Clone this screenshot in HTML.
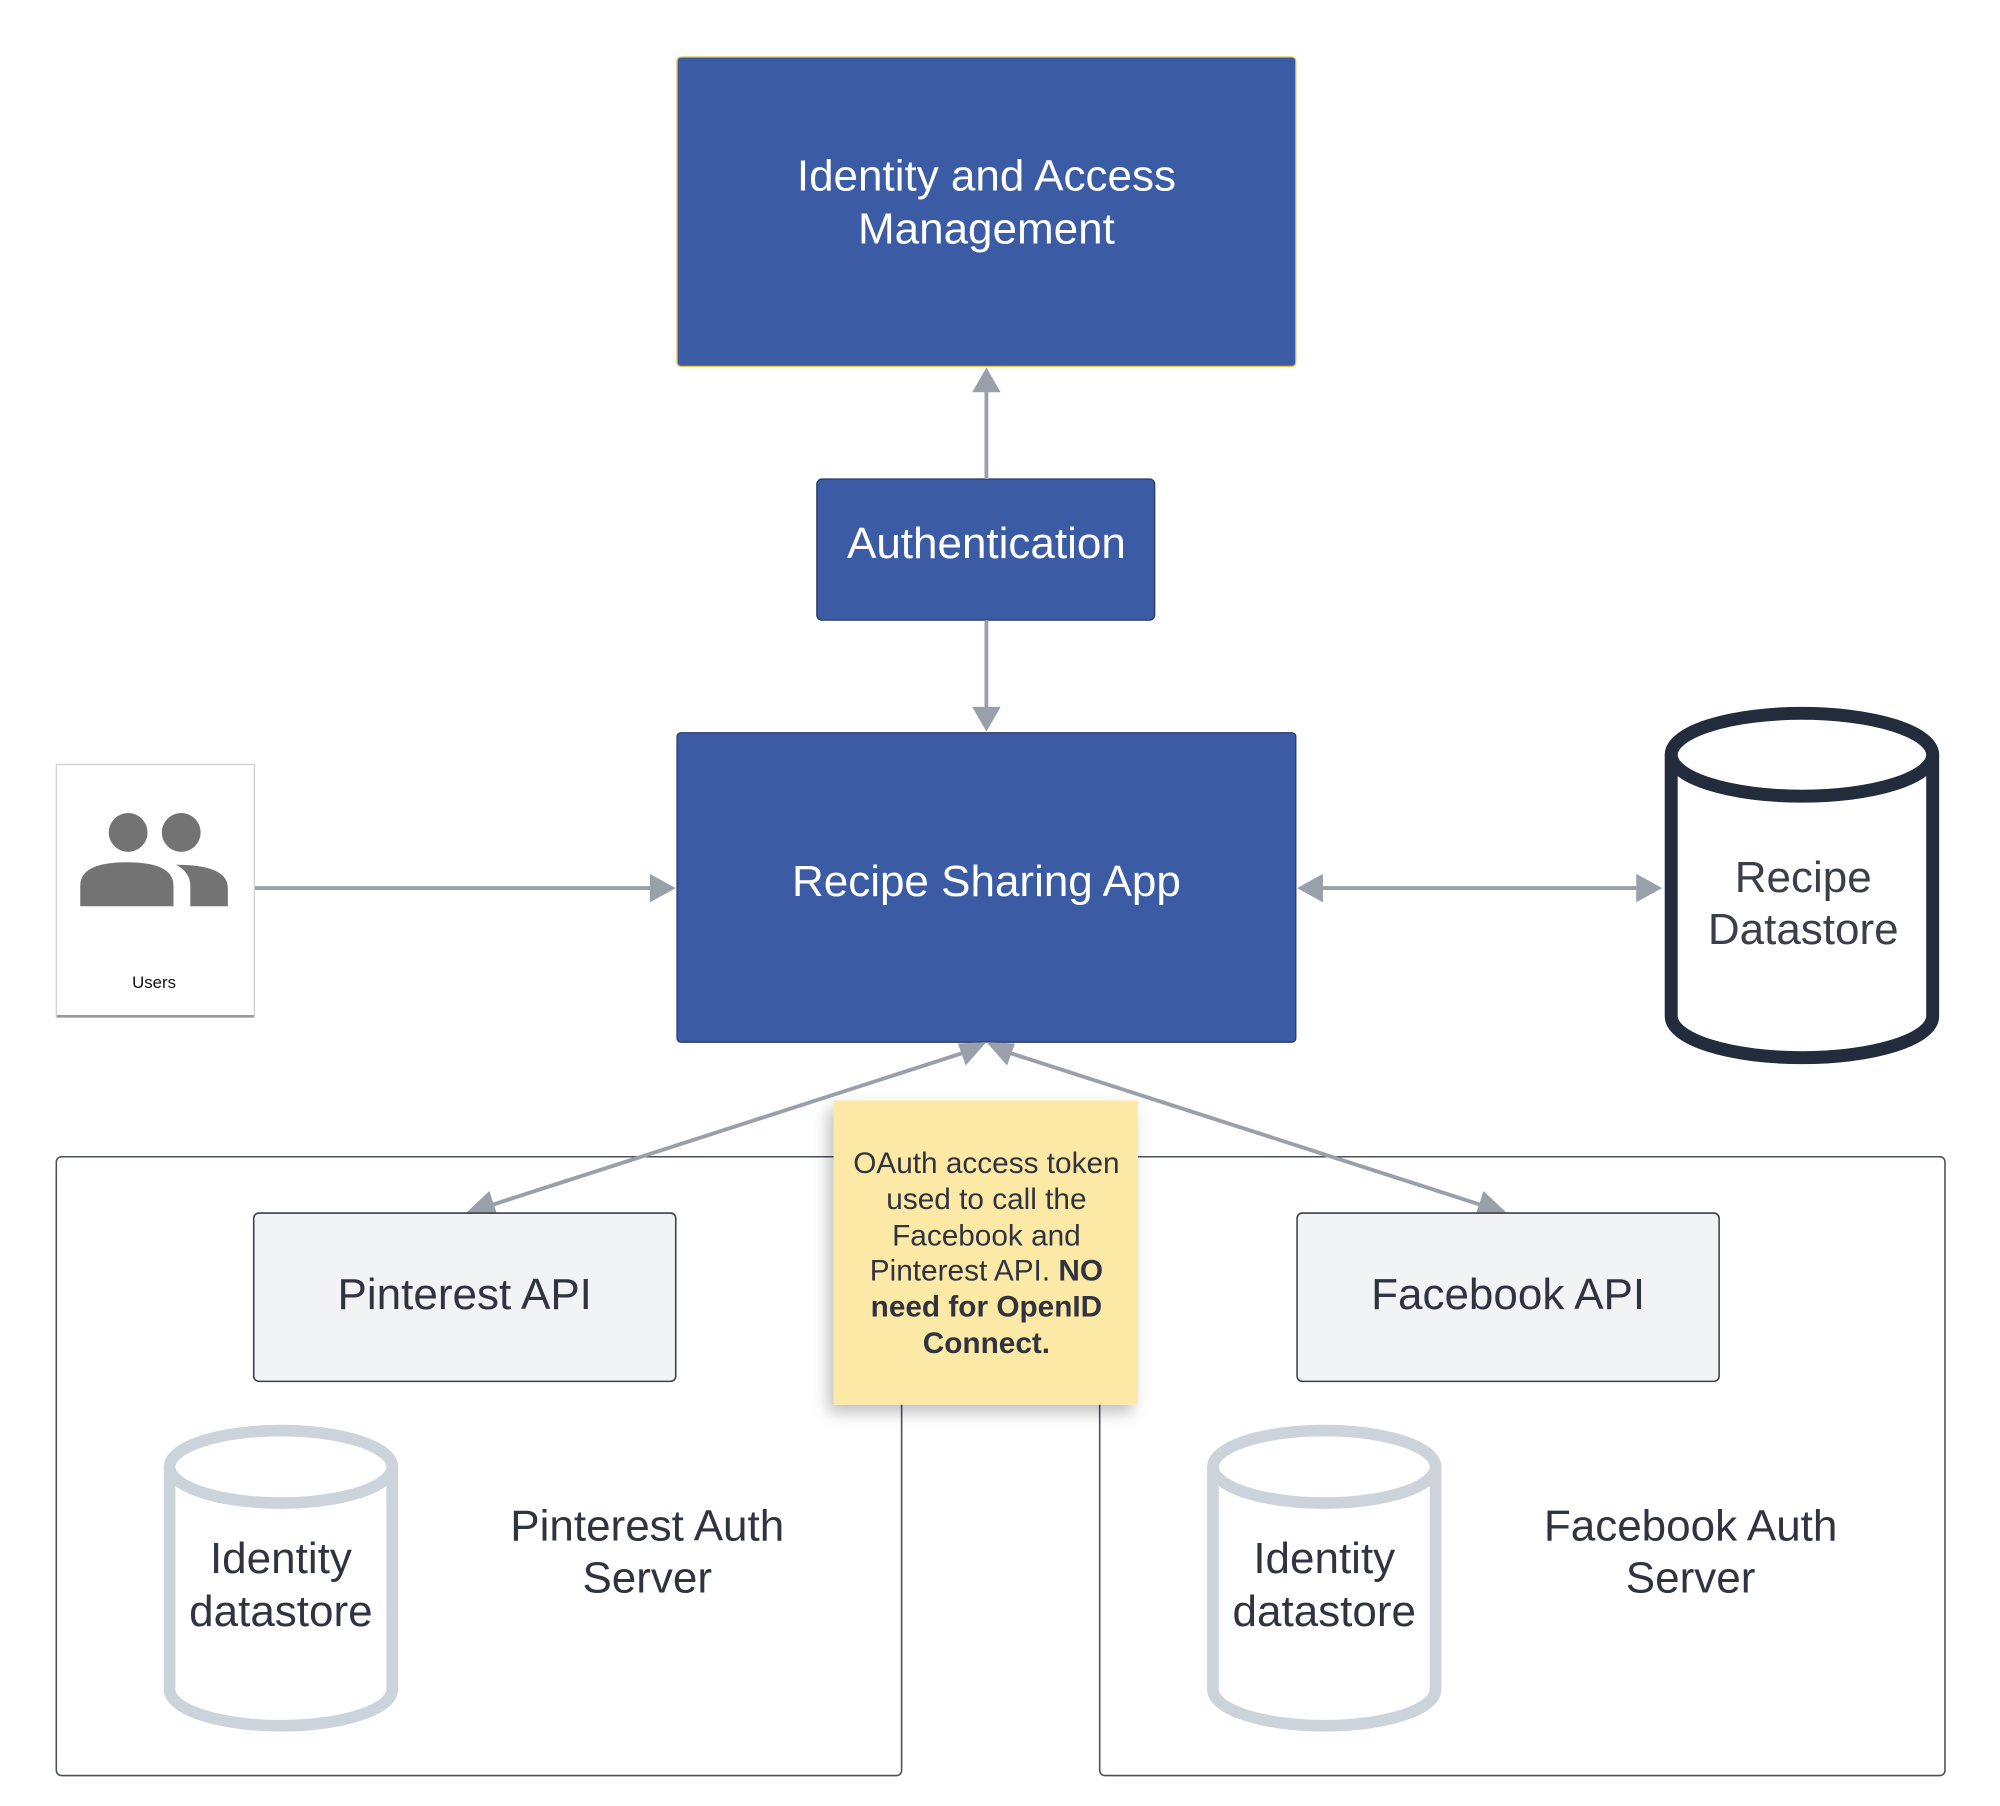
<!DOCTYPE html>
<html><head><meta charset="utf-8"><style>
html,body{margin:0;padding:0;background:#fff;}
svg{display:block;}
text{font-family:"Liberation Sans",sans-serif;}
</style></head><body>
<svg width="2000" height="1806" viewBox="0 0 1545 1395" preserveAspectRatio="none" xmlns="http://www.w3.org/2000/svg">
<defs>
<filter id="sh" x="-20%" y="-20%" width="140%" height="140%"><feDropShadow dx="-4" dy="6" stdDeviation="6" flood-color="#000" flood-opacity="0.25"/></filter>
</defs>
<rect x="43.5" y="893.5" width="653" height="478" rx="4" fill="#fff" stroke="#4a4f5a" stroke-width="1.2"/>
<rect x="849.5" y="893.5" width="653" height="478" rx="4" fill="#fff" stroke="#4a4f5a" stroke-width="1.2"/>

<rect x="523" y="44" width="478" height="239" rx="3" fill="#3b5ba5" stroke="#e8c24a" stroke-width="1"/>
<text x="762" y="147" font-size="34" fill="#fff" text-anchor="middle">Identity and Access</text>
<text x="762" y="188" font-size="34" fill="#fff" text-anchor="middle">Management</text>

<rect x="631" y="370" width="261" height="109" rx="4" fill="#3b5ba5" stroke="#2a3a6a" stroke-width="1"/>
<text x="762" y="431" font-size="34" fill="#fff" text-anchor="middle">Authentication</text>

<rect x="523" y="566" width="478" height="239" rx="3" fill="#3b5ba5" stroke="#2a3a6a" stroke-width="1"/>
<text x="762" y="692" font-size="34" fill="#fff" text-anchor="middle">Recipe Sharing App</text>

<g stroke="#9aa0aa" stroke-width="3" fill="#9aa0aa">
<line x1="762" y1="370" x2="762" y2="300"/>
<polygon points="762,284 751,303 773,303" stroke="none"/>
<line x1="762" y1="479" x2="762" y2="548"/>
<polygon points="762,565 751,546 773,546" stroke="none"/>
<line x1="197" y1="686" x2="505" y2="686"/>
<polygon points="522,686 502,675 502,697" stroke="none"/>
<line x1="1018" y1="686" x2="1266" y2="686"/>
<polygon points="1002,686 1022,675 1022,697" stroke="none"/>
<polygon points="1284,686 1264,675 1264,697" stroke="none"/>
<line x1="748" y1="812" x2="376" y2="932"/>
<line x1="776" y1="812" x2="1148" y2="932"/>
<polygon points="762,805 740,806 746,823" stroke="none"/>
<polygon points="762,805 784,806 778,823" stroke="none"/>
<polygon points="360,937 378,920 384,938" stroke="none"/>
<polygon points="1164,937 1146,920 1140,938" stroke="none"/>
</g>

<rect x="43.5" y="590.5" width="153" height="195" fill="#fff" stroke="#d0d0d0" stroke-width="1"/>
<line x1="44" y1="785" x2="196" y2="785" stroke="#999" stroke-width="2"/>
<g fill="#737373">
<circle cx="99" cy="643" r="15"/>
<circle cx="140" cy="643" r="15"/>
<path d="M62,700 L62,684 Q62,666 98,666 Q134,666 134,684 L134,700 Z"/>
<path d="M136,668 Q176,668 176,686 L176,700 L147,700 L147,684 Q147,674 136,668 Z"/>
</g>
<text x="119" y="763" font-size="13" fill="#111" text-anchor="middle">Users</text>

<g fill="none" stroke="#222c3c" stroke-width="10">
<path d="M1291,583 L1291,785 A101,32 0 0 0 1493,785 L1493,583"/>
<ellipse cx="1392" cy="583" rx="101" ry="32" fill="#fff"/>
</g>
<text x="1393" y="689" font-size="34" fill="#3a3f4a" text-anchor="middle">Recipe</text>
<text x="1393" y="729" font-size="34" fill="#3a3f4a" text-anchor="middle">Datastore</text>

<rect x="196" y="937" width="326" height="130" rx="4" fill="#f2f3f5" stroke="#3a3f4a" stroke-width="1.2"/>
<text x="359" y="1011" font-size="34" fill="#2f3440" text-anchor="middle">Pinterest API</text>
<rect x="1002" y="937" width="326" height="130" rx="4" fill="#f2f3f5" stroke="#3a3f4a" stroke-width="1.2"/>
<text x="1165" y="1011" font-size="34" fill="#2f3440" text-anchor="middle">Facebook API</text>

<g fill="none" stroke="#cdd3db" stroke-width="9">
<path d="M131,1133 L131,1305 A86,28 0 0 0 303,1305 L303,1133"/>
<ellipse cx="217" cy="1133" rx="86" ry="28"/>
<path d="M937,1133 L937,1305 A86,28 0 0 0 1109,1305 L1109,1133"/>
<ellipse cx="1023" cy="1133" rx="86" ry="28"/>
</g>
<g font-size="34" fill="#2f3440" text-anchor="middle">
<text x="217" y="1215">Identity</text>
<text x="217" y="1256">datastore</text>
<text x="1023" y="1215">Identity</text>
<text x="1023" y="1256">datastore</text>
<text x="500" y="1190">Pinterest Auth</text>
<text x="500" y="1230">Server</text>
<text x="1306" y="1190">Facebook Auth</text>
<text x="1306" y="1230">Server</text>
</g>

<rect x="644" y="850" width="235" height="235" fill="#fde9a6" filter="url(#sh)"/>
<g font-size="23" fill="#2f3440" text-anchor="middle">
<text x="762" y="906">OAuth access token</text>
<text x="762" y="934">used to call the</text>
<text x="762" y="962">Facebook and</text>
<text x="762" y="989">Pinterest API. <tspan font-weight="bold">NO</tspan></text>
<text x="762" y="1017" font-weight="bold">need for OpenID</text>
<text x="762" y="1045" font-weight="bold">Connect.</text>
</g>
</svg>
</body></html>
